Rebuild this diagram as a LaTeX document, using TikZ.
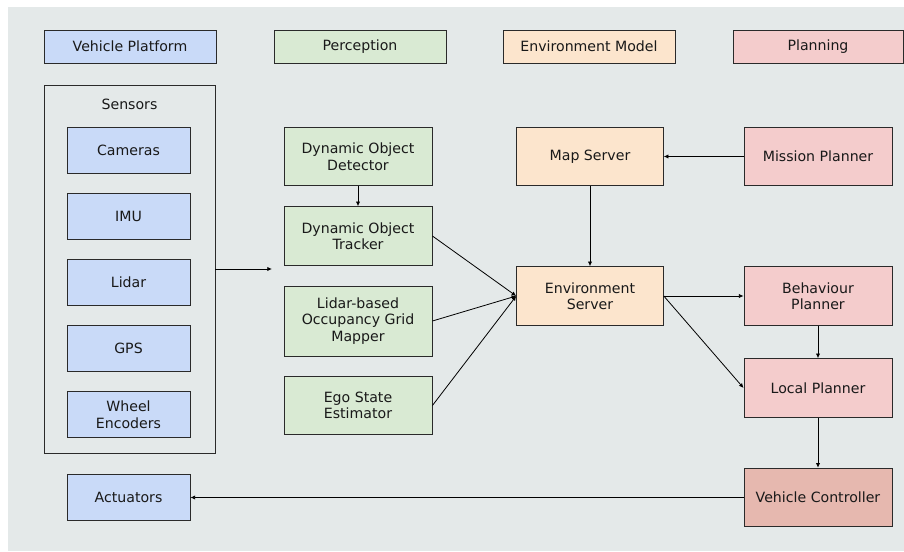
\documentclass[tikz,border=0pt]{standalone}
\usepackage{fontspec}
\setmainfont{DejaVu Sans}
\usetikzlibrary{arrows.meta}
\definecolor{bgc}{HTML}{E4E9E9}
\definecolor{vpc}{HTML}{C9DAF8}
\definecolor{pec}{HTML}{D9EAD3}
\definecolor{emc}{HTML}{FCE5CD}
\definecolor{plc}{HTML}{F4CCCC}
\definecolor{vcc}{HTML}{E6B8AF}
\definecolor{edge}{HTML}{2A2A2A}
\tikzset{
  box/.style={draw=edge, line width=0.65pt, rectangle, inner sep=0pt, align=center,
    font=\fontsize{10.6pt}{12.4pt}\selectfont, text=black!90},
  vp/.style={box, fill=vpc},
  pe/.style={box, fill=pec},
  em/.style={box, fill=emc},
  pl/.style={box, fill=plc},
  vc/.style={box, fill=vcc},
  hdr/.style={minimum width=129pt, minimum height=24.75pt},
  sbox/.style={minimum width=92.25pt, minimum height=34.5pt},
  pbox/.style={minimum width=111pt, minimum height=44pt},
  conn/.style={draw=black, line width=0.6pt, -{Latex[length=3.5pt,width=3.2pt]}}
}
\begin{document}
\begin{tikzpicture}[x=0.75pt,y=-0.75pt]
\useasboundingbox (0,0) rectangle (904,552);
\fill[bgc] (8,7) rectangle (904,551);
% headers
\node[vp,hdr] (hvp) at (130,46.5) {Vehicle Platform};
\node[pe,hdr] (hpe) at (360,46.5) {Perception};
\node[em,hdr] (hem) at (589,46.5) {Environment Model};
\node[pl,hdr,minimum width=127.5pt] (hpl) at (818,46.5) {Planning};
% sensors container
\node[box, minimum width=128.25pt, minimum height=276pt] (sensors) at (129.5,269) {};
\node[font=\fontsize{10.6pt}{12.4pt}\selectfont, text=black!90, inner sep=0pt] (senslabel) at (129.5,104) {Sensors};
\node[vp,sbox] (cam) at (128.5,150) {Cameras};
\node[vp,sbox] (imu) at (128.5,216) {IMU};
\node[vp,sbox] (lidar) at (128.5,282.5) {Lidar};
\node[vp,sbox] (gps) at (128.5,348) {GPS};
\node[vp,sbox] (wheel) at (128.5,414.5) {Wheel\\Encoders};
\node[vp,sbox] (act) at (128.5,497.5) {Actuators};
% perception
\node[pe,pbox] (det) at (358,156.5) {Dynamic Object\\Detector};
\node[pe,pbox] (trk) at (358,236) {Dynamic Object\\Tracker};
\node[pe,pbox,minimum height=52.5pt] (occ) at (358,321) {Lidar-based\\Occupancy Grid\\Mapper};
\node[pe,pbox] (ego) at (358,405.5) {Ego State\\Estimator};
% environment model
\node[em,pbox,minimum width=110pt] (map) at (590,156.5) {Map Server};
\node[em,pbox,minimum width=110pt] (env) at (590,296) {Environment\\Server};
% planning
\node[pl,pbox] (mis) at (818,156.5) {Mission Planner};
\node[pl,pbox] (beh) at (818,296) {Behaviour\\Planner};
\node[pl,pbox] (loc) at (818,388) {Local Planner};
\node[vc,pbox] (ctrl) at (818,497.5) {Vehicle Controller};
% connectors
\coordinate (sensin) at (272,269);
\draw[conn] (sensors.east) -- (sensin);
\draw[conn] (det) -- (trk);
\draw[conn] (trk.east) -- (env.west);
\draw[conn] (occ.east) -- (env.west);
\draw[conn] (ego.east) -- (env.west);
\draw[conn] (mis) -- (map);
\draw[conn] (map) -- (env);
\draw[conn] (env.east) -- (beh.west);
\draw[conn] (env.east) -- (loc.west);
\draw[conn] (beh) -- (loc);
\draw[conn] (loc) -- (ctrl);
\draw[conn] (ctrl) -- (act);
\end{tikzpicture}
\end{document}
